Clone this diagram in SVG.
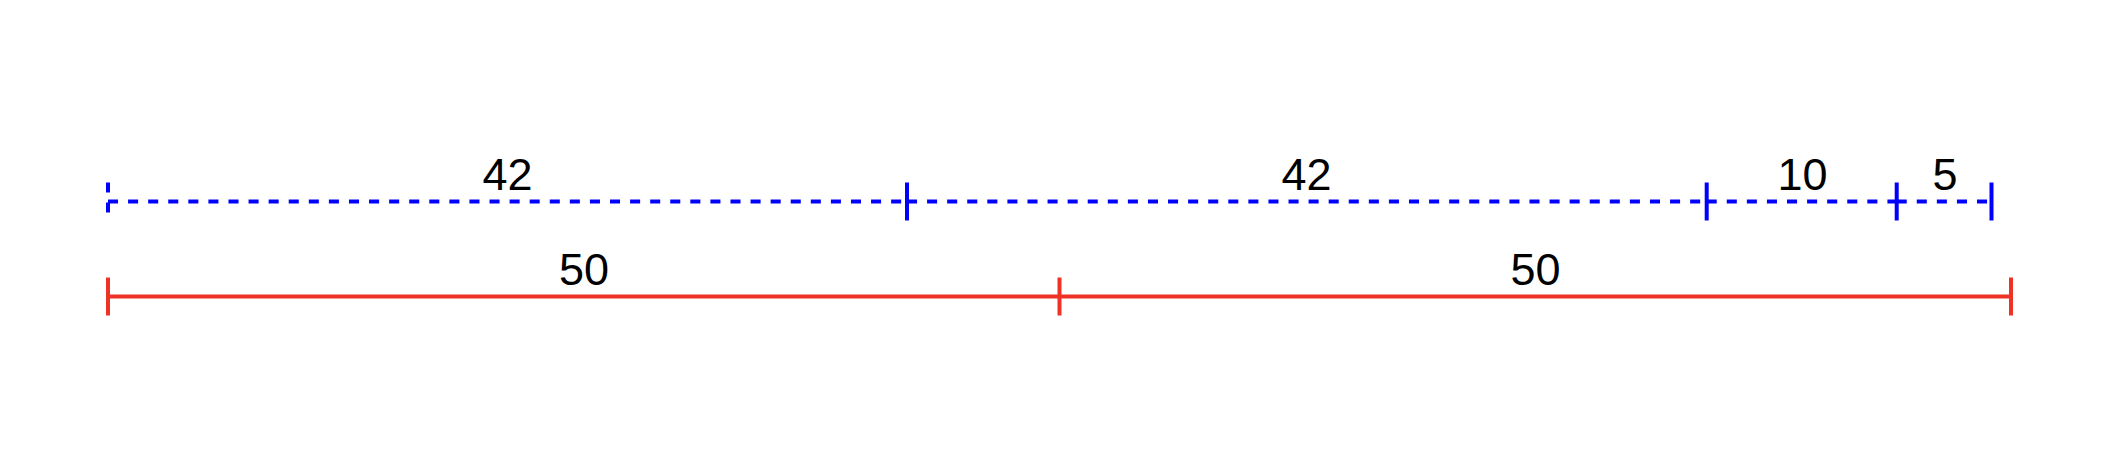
<svg xmlns="http://www.w3.org/2000/svg" width="2106" height="458" viewBox="0 0 2106 458">
<style>
.blue{stroke:#0000ff;stroke-width:4;fill:none}
.dash{stroke-dasharray:10.04 10.04}
.red{stroke:#ee3326;stroke-width:4;fill:none}
.lbl{font-family:"Liberation Sans",Arial,sans-serif;font-size:45px;fill:#000;text-anchor:middle}
</style>
<rect width="2106" height="458" fill="#fff"/>
<g id="connectors">
<line class="blue dash" x1="108" y1="201.5" x2="907" y2="201.5"/>
<line class="blue dash" x1="907" y1="201.5" x2="1706.7" y2="201.5"/>
<line class="blue dash" x1="1706.7" y1="201.5" x2="1896.7" y2="201.5"/>
<line class="blue dash" x1="1896.7" y1="201.5" x2="1991.5" y2="201.5"/>
<line class="red" x1="108" y1="296.5" x2="1059.5" y2="296.5"/>
<line class="red" x1="1059.5" y1="296.5" x2="2011" y2="296.5"/>
</g>
<g id="blue-ticks">
<line class="blue dash" x1="108" y1="182.5" x2="108" y2="220.5"/>
<line class="blue" x1="907" y1="182.5" x2="907" y2="220.5"/>
<line class="blue" x1="1706.7" y1="182.5" x2="1706.7" y2="220.5"/>
<line class="blue" x1="1896.7" y1="182.5" x2="1896.7" y2="220.5"/>
<line class="blue" x1="1991.5" y1="182.5" x2="1991.5" y2="220.5"/>
</g>
<g id="red-ticks">
<line class="red" x1="108" y1="277.5" x2="108" y2="315.5"/>
<line class="red" x1="1059.5" y1="277.5" x2="1059.5" y2="315.5"/>
<line class="red" x1="2011" y1="277.5" x2="2011" y2="315.5"/>
</g>
<g id="blue-labels">
<text class="lbl" x="507.5" y="189.5">42</text>
<text class="lbl" x="1306.5" y="189.5">42</text>
<text class="lbl" x="1802.5" y="189.5">10</text>
<text class="lbl" x="1945" y="189.5">5</text>
</g>
<g id="red-labels">
<text class="lbl" x="584" y="284.5">50</text>
<text class="lbl" x="1535.5" y="284.5">50</text>
</g>
</svg>
